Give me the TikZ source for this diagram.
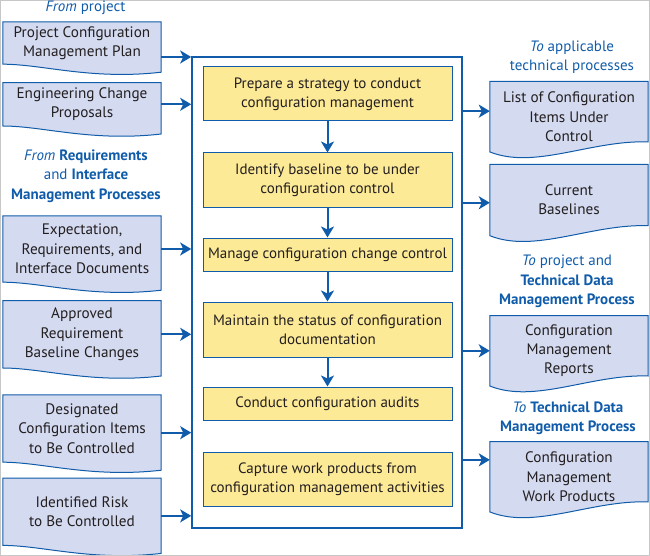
\documentclass[tikz,border=0pt]{standalone}
\usepackage{fontspec}
\setmainfont{PT Sans}
\usetikzlibrary{arrows.meta}
\usetikzlibrary{backgrounds}

\definecolor{procblue}{RGB}{16,92,170}
\definecolor{docfill}{RGB}{212,218,240}
\definecolor{stepfill}{RGB}{253,234,150}
\definecolor{inktext}{RGB}{35,31,32}

\tikzset{
  doc/.style={minimum width=158pt,align=center,inner sep=0pt,text=inktext,
    font=\fontsize{15.2}{19.3}\selectfont},
  docline/.style={draw=procblue,line width=1pt,fill=docfill},
  stepbox/.style={draw=procblue,line width=1pt,fill=stepfill,minimum width=249pt,
    align=center,inner sep=0pt,text=inktext,font=\fontsize{15}{19.3}\selectfont},
  heading/.style={text=procblue,align=center,font=\fontsize{15}{19.3}\selectfont},
  flow/.style={draw=procblue,line width=2pt,-{Stealth[length=11pt,width=13pt,inset=3pt]}},
}

% document outlines, wave at the bottom
\newcommand{\leftdoc}[1]{\draw[docline] (#1.north west) -- (#1.north east)
  -- ([yshift=-8pt]#1.south east)
  .. controls ([xshift=-70pt,yshift=-16pt]#1.south east) and ([xshift=40pt]#1.south west)
  .. (#1.south west) -- cycle;}
\newcommand{\rightdoc}[1]{\draw[docline] (#1.north west) -- (#1.north east)
  -- ([yshift=10pt]#1.south east)
  .. controls ([xshift=-57pt,yshift=12pt]#1.south east) and ([xshift=45pt,yshift=-18pt]#1.south west)
  .. (#1.south west) -- cycle;}

\begin{document}
\begin{tikzpicture}[x=1pt,y=-1pt]
  \useasboundingbox (0,0) rectangle (650,556);
  \draw[black!22] (0.5,0.5) rectangle (649.5,555.5);

  % inputs
  \node[heading] (fromproj) at (85.5,8) {\textit{From} project};
  \node[doc,minimum height=42pt] (in1) at (82,43) {Project Configuration\\ Management Plan};
  \node[doc,minimum height=43pt] (in2) at (82,104.3) {Engineering Change\\ Proposals};
  \node[heading] (fromreq) at (86,176) {\textit{From} \textbf{Requirements}\\ and \textbf{Interface}\\ \textbf{Management Processes}};
  \node[doc,minimum height=66pt] (in3) at (82,249) {Expectation,\\ Requirements, and\\ Interface Documents};
  \node[doc,minimum height=67pt] (in4) at (82,334.3) {Approved\\ Requirement\\ Baseline Changes};
  \node[doc,minimum height=67pt] (in5) at (82,428.5) {Designated\\ Configuration Items\\ to Be Controlled};
  \node[doc,minimum height=67pt] (in6) at (82,511.7) {Identified Risk\\ to Be Controlled};

  % activities
  \node[draw=procblue,line width=1.6pt,minimum width=270pt,minimum height=471pt] (frame) at (327,292.5) {};
  \node[stepbox,minimum height=54pt] (s1) at (327.5,94) {Prepare a strategy to conduct\\ configuration management};
  \node[stepbox,minimum height=54pt] (s2) at (327.5,180) {Identify baseline to be under\\ configuration control};
  \node[stepbox,minimum height=33pt] (s3) at (327.5,254.5) {Manage configuration change control};
  \node[stepbox,minimum height=55pt] (s4) at (327.5,329.5) {Maintain the status of configuration\\ documentation};
  \node[stepbox,minimum height=33pt] (s5) at (327.5,403.5) {Conduct configuration audits};
  \node[stepbox,minimum height=54pt] (s6) at (327.5,479) {Capture work products from\\ configuration management activities};

  % outputs
  \node[heading] (toapp) at (572,57) {\textit{To} applicable\\ technical processes};
  \node[doc,minimum height=70pt] (out1) at (569,116.7) {List of Configuration\\ Items Under\\ Control};
  \node[doc,minimum height=71pt] (out2) at (569,200) {Current\\ Baselines};
  \node[heading] (toproj) at (567,281.5) {\textit{To} project and\\ \textbf{Technical Data}\\ \textbf{Management Process}};
  \node[doc,minimum height=70pt] (out3) at (569,350.8) {Configuration\\ Management\\ Reports};
  \node[heading] (totdm) at (568,418) {\textit{To} \textbf{Technical Data}\\ \textbf{Management Process}};
  \node[doc,minimum height=70pt] (out4) at (569,476.7) {Configuration\\ Management\\ Work Products};

  \begin{scope}[on background layer]
    \foreach \n in {in1,in2,in3,in4,in5,in6} \leftdoc{\n};
    \foreach \n in {out1,out2,out3,out4} \rightdoc{\n};
  \end{scope}

  \foreach \n/\a in {in1/350,in2/0,in3/0,in4/0,in5/357,in6/357}
    \draw[flow] (\n.\a) -- (\n.\a -| frame.west);
  \foreach \a/\b in {s1/s2,s2/s3,s3/s4,s4/s5}
    \draw[flow] (\a) -- (\b);
  \foreach \n/\a in {out1/176,out2/182,out3/180,out4/168}
    \draw[flow] (frame.east |- \n.\a) -- (\n.\a);
\end{tikzpicture}
\end{document}
